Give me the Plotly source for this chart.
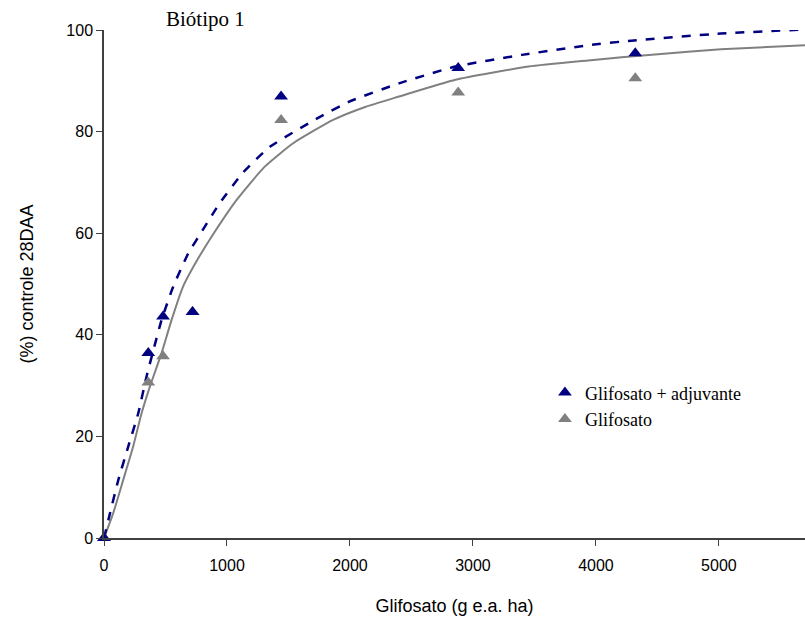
import plotly.graph_objects as go

# Doses (g e.a. ha)
doses = [0, 360, 480, 720, 1440, 2880, 4320]
# Observed control (%)
adj_obs = [0, 36.4, 43.6, 44.5, 86.9, 92.5, 95.4]
gli_obs = [0, 30.6, 35.8, 44.5, 82.3, 87.7, 90.5]

# Fitted curves
adj_curve_x = [0, 49, 116, 197, 278, 346, 468, 563, 685, 820, 943, 1133, 1349, 1756, 1994, 2399, 2858, 3398, 3938, 4287, 5016, 5700]
adj_curve_y = [0, 4.9, 11.4, 18.0, 24.5, 31.8, 42.9, 49.5, 56.0, 61.3, 66.0, 72.0, 77.0, 82.9, 85.9, 89.5, 92.8, 95.1, 97.0, 97.9, 99.3, 100.1]
gli_curve_x = [0, 75, 156, 237, 305, 373, 468, 549, 643, 765, 880, 1077, 1307, 1538, 1863, 2129, 2399, 2858, 3452, 3938, 4479, 5016, 5700]
gli_curve_y = [0, 4.9, 11.4, 18.0, 24.5, 29.8, 36.4, 42.9, 49.5, 55.0, 59.5, 66.5, 73.1, 77.7, 82.3, 84.9, 86.9, 90.2, 92.8, 94.0, 95.2, 96.2, 97.0]

x_ticks = [0, 1000, 2000, 3000, 4000, 5000]
y_ticks = [0, 20, 40, 60, 80, 100]

NAVY = "#000080"
GRAY = "#808080"

fig = go.Figure()
fig.add_trace(go.Scatter(x=gli_curve_x, y=gli_curve_y, mode="lines",
                         line=dict(color=GRAY, width=2, shape="spline", smoothing=0.5),
                         showlegend=False, hoverinfo="skip", cliponaxis=False))
fig.add_trace(go.Scatter(x=adj_curve_x, y=adj_curve_y, mode="lines",
                         line=dict(color=NAVY, width=2.5, dash="dash", shape="spline", smoothing=0.5),
                         showlegend=False, hoverinfo="skip", cliponaxis=False))
fig.add_trace(go.Scatter(x=doses, y=gli_obs, mode="markers", name="Glifosato", legendrank=2,
                         marker=dict(symbol="triangle-up", size=12, color=GRAY), cliponaxis=False))
fig.add_trace(go.Scatter(x=doses, y=adj_obs, mode="markers", name="Glifosato + adjuvante", legendrank=1,
                         marker=dict(symbol="triangle-up", size=12, color=NAVY), cliponaxis=False))

axis_font = dict(family="Liberation Sans, Arial, sans-serif", size=16, color="#000000")
title_font = dict(family="Liberation Sans, Arial, sans-serif", size=18, color="#000000")

fig.update_layout(
    width=805, height=628,
    margin=dict(l=104, r=0, t=30, b=90),
    paper_bgcolor="white", plot_bgcolor="white",
    xaxis=dict(range=[0, 5700], tickvals=x_ticks, showgrid=False, zeroline=False,
               showline=True, linecolor="#404040", linewidth=1.5,
               ticks="outside", ticklen=6, tickcolor="#404040",
               tickfont=axis_font, ticklabelstandoff=6,
               title=dict(text="Glifosato (g e.a. ha)", font=title_font, standoff=26)),
    yaxis=dict(range=[0, 100], tickvals=y_ticks, showgrid=False, zeroline=False,
               showline=True, linecolor="#404040", linewidth=1.5,
               ticks="outside", ticklen=6, tickcolor="#404040",
               tickfont=axis_font,
               title=dict(text="(%) controle 28DAA", font=title_font, standoff=28)),
    legend=dict(x=0.629, y=0.322, xanchor="left", yanchor="top",
                font=dict(family="Liberation Serif, Times New Roman, serif", size=18, color="#000"),
                bgcolor="rgba(0,0,0,0)", itemwidth=30, tracegroupgap=0),
)
fig.add_annotation(text="Biótipo 1", x=(164 - 104) / 701, y=(538 - 19) / 508, xref="paper", yref="paper",
                   xanchor="left", yanchor="middle", showarrow=False,
                   font=dict(family="Liberation Serif, Times New Roman, serif", size=21, color="#000"))

fig.write_html("out.html")
